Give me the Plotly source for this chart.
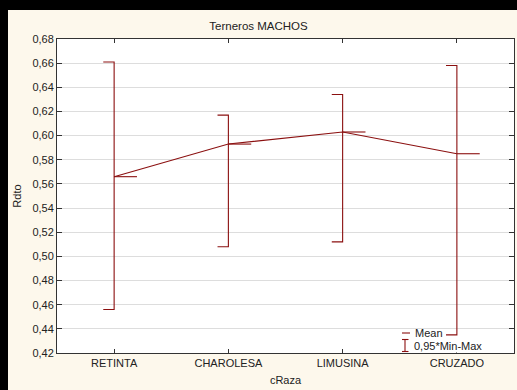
import plotly.graph_objects as go

# ---- data ----
categories = ["RETINTA", "CHAROLESA", "LIMUSINA", "CRUZADO"]
means = [0.566, 0.593, 0.603, 0.585]
max_vals = [0.661, 0.617, 0.634, 0.658]
min_vals = [0.456, 0.508, 0.512, 0.435]
y_ticks = [0.42, 0.44, 0.46, 0.48, 0.50, 0.52, 0.54, 0.56, 0.58, 0.60, 0.62, 0.64, 0.66, 0.68]

RED = "#8b1010"
FONT = "Arial, Liberation Sans, sans-serif"
W, H = 517, 390
L, R, T, B = 57, 3, 39, 37
PW, PH = W - L - R, H - T - B

def px(x):
    return (x - L) / PW

def py(y):
    return (H - B - y) / PH

idx = list(range(len(categories)))
cap = 0.095
mtick = 0.2

# whiskers with left-hand caps
wx, wy = [], []
for i, lo, hi in zip(idx, min_vals, max_vals):
    wx += [i - cap, i, i, i - cap, None]
    wy += [hi, hi, lo, lo, None]
# mean ticks extending to the right
mx, my = [], []
for i, m in zip(idx, means):
    mx += [i, i + mtick, None]
    my += [m, m, None]

fig = go.Figure()
fig.add_trace(go.Scatter(x=wx, y=wy, mode="lines", line=dict(color=RED, width=1.1),
                         showlegend=False, hoverinfo="skip"))
fig.add_trace(go.Scatter(x=mx, y=my, mode="lines", line=dict(color=RED, width=1.1),
                         showlegend=False, hoverinfo="skip"))
fig.add_trace(go.Scatter(x=idx, y=means, mode="lines", line=dict(color=RED, width=1.1),
                         showlegend=False, name="Mean"))

shapes = [
    # black frame bands (top and left)
    dict(type="rect", xref="paper", yref="paper", x0=px(0), x1=px(W), y0=py(10), y1=py(0),
         fillcolor="black", line=dict(width=0), layer="above"),
    dict(type="rect", xref="paper", yref="paper", x0=px(0), x1=px(8), y0=py(H), y1=py(0),
         fillcolor="black", line=dict(width=0), layer="above"),
    # legend box
    dict(type="rect", xref="paper", yref="paper", x0=px(399), x1=px(512), y0=py(352), y1=py(326),
         fillcolor="white", line=dict(width=0), layer="between"),
    # legend glyph: mean
    dict(type="line", xref="paper", yref="paper", x0=px(402), x1=px(410), y0=py(333), y1=py(333),
         line=dict(color=RED, width=1.1), layer="above"),
    # legend glyph: min-max
    dict(type="line", xref="paper", yref="paper", x0=px(405), x1=px(405), y0=py(339.5), y1=py(351.5),
         line=dict(color=RED, width=1.1), layer="above"),
    dict(type="line", xref="paper", yref="paper", x0=px(402), x1=px(408.5), y0=py(339.5), y1=py(339.5),
         line=dict(color=RED, width=1.1), layer="above"),
    dict(type="line", xref="paper", yref="paper", x0=px(402), x1=px(408.5), y0=py(351.5), y1=py(351.5),
         line=dict(color=RED, width=1.1), layer="above"),
]

annotations = [
    dict(text="Mean", xref="paper", yref="paper", x=px(413), y=py(333), xanchor="left",
         yanchor="middle", showarrow=False, font=dict(family=FONT, size=11, color="#222")),
    dict(text="0,95*Min-Max", xref="paper", yref="paper", x=px(413), y=py(345.5), xanchor="left",
         yanchor="middle", showarrow=False, bgcolor="white", borderpad=0,
         font=dict(family=FONT, size=11, color="#222")),
]

fig.update_layout(
    width=W, height=H,
    margin=dict(l=L, r=R, t=T, b=B, pad=0),
    paper_bgcolor="#fdf8ec",
    plot_bgcolor="white",
    separators=",.",
    font=dict(family=FONT, size=11, color="#222"),
    title=dict(text="Terneros MACHOS", x=px(285.5), xanchor="center", y=1 - 25.5 / H,
               yanchor="middle", font=dict(family=FONT, size=11.5, color="#222")),
    shapes=shapes,
    annotations=annotations,
    showlegend=False,
)
fig.update_xaxes(
    range=[-0.5, 3.5], tickmode="array", tickvals=idx, ticktext=categories,
    showgrid=False, zeroline=False, showline=True, linecolor="#333", linewidth=1,
    mirror="ticks", ticks="inside", ticklen=4, tickcolor="#333",
    title=dict(text="cRaza", standoff=8, font=dict(family=FONT, size=11)),
    tickfont=dict(family=FONT, size=11),
)
fig.update_yaxes(
    range=[0.42, 0.68], tickmode="array", tickvals=y_ticks, tickformat=".2f",
    showgrid=True, gridcolor="#dddddd", gridwidth=1, zeroline=False,
    showline=True, linecolor="#333", linewidth=1,
    mirror="ticks", ticks="inside", ticklen=5, tickcolor="#333",
    title=dict(text="Rdto", standoff=8, font=dict(family=FONT, size=11)),
    tickfont=dict(family=FONT, size=11),
)

fig.write_html(
    "out.html",
    config={"displayModeBar": False},
    post_script="document.body.style.margin='0px';document.body.style.overflow='hidden';",
)
